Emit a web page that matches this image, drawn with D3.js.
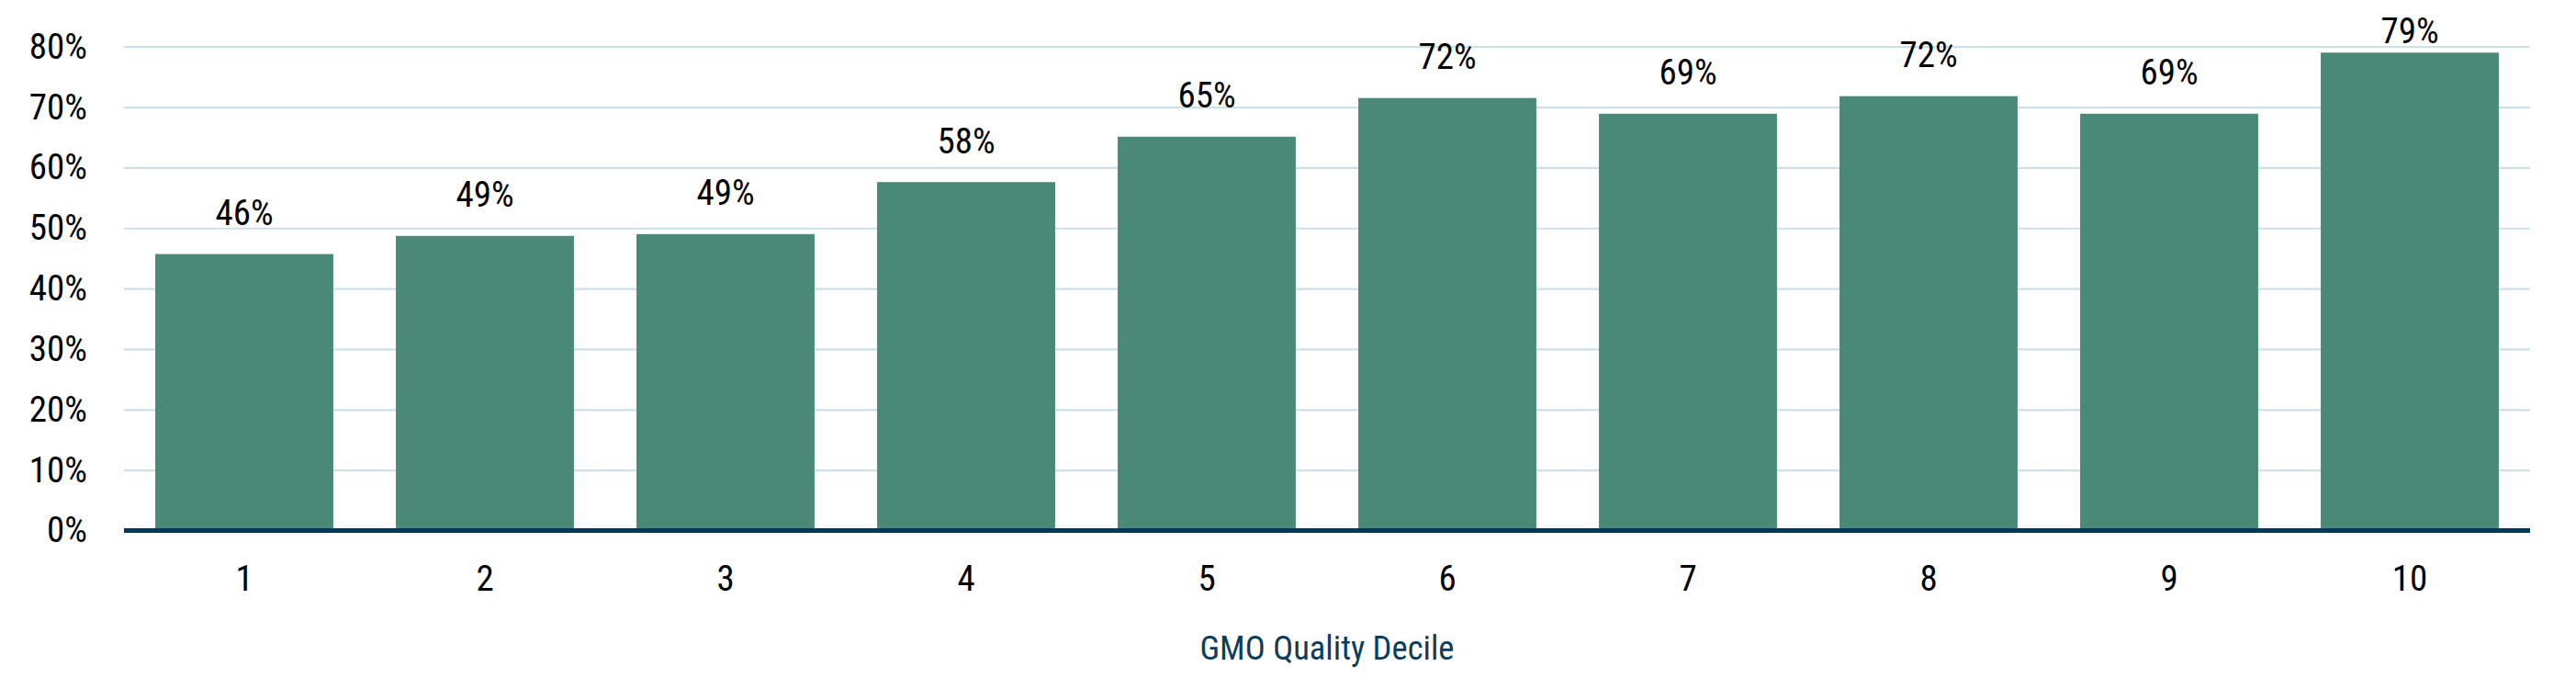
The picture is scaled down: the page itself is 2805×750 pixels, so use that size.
<!DOCTYPE html>
<html>
<head>
<meta charset="utf-8">
<script src="https://cdn.jsdelivr.net/npm/d3@7"></script>
<style>
  html, body { margin: 0; padding: 0; background: #fff; }
  text { font-family: "Roboto Condensed", Roboto, "Liberation Sans", sans-serif; }
</style>
</head>
<body>
<div id="chart"></div>
<script>
// Данные графика
const deciles = ['1', '2', '3', '4', '5', '6', '7', '8', '9', '10'];
const hitRates = [45.7, 48.7, 49.0, 57.6, 65.1, 71.5, 68.9, 71.8, 68.9, 79.0];
const valueLabels = ['46%', '49%', '49%', '58%', '65%', '72%', '69%', '72%', '69%', '79%'];
const yTicks = [0, 10, 20, 30, 40, 50, 60, 70, 80];
const xTitle = 'GMO Quality Decile';

const width = 2805;
const height = 750;
const plot = { left: 135, right: 2755, top: 50.7, bottom: 577.5 };
const titleWidth = 277;

const svg = d3.select('#chart')
  .append('svg')
  .attr('width', width)
  .attr('height', height);

const x = d3.scaleBand()
  .domain(deciles)
  .range([plot.left, plot.right])
  .paddingInner(0.26)
  .paddingOuter(0.13);

const y = d3.scaleLinear()
  .domain([0, 80])
  .range([plot.bottom, plot.top]);

// Сетка и подписи оси Y
const yAxis = svg.append('g')
  .attr('transform', `translate(${plot.left},0)`)
  .call(d3.axisLeft(y)
    .tickValues(yTicks)
    .tickSize(-(plot.right - plot.left))
    .tickPadding(40)
    .tickFormat((d) => `${d}%`));

yAxis.select('.domain').remove();
yAxis.selectAll('.tick line')
  .attr('stroke', '#cde0e8')
  .attr('stroke-width', 2.2);
yAxis.selectAll('.tick text')
  .attr('fill', '#000')
  .attr('font-size', 39)
  .attr('font-family', null);

// Столбцы
svg.append('g')
  .selectAll('rect')
  .data(hitRates)
  .enter()
  .append('rect')
  .attr('x', (d, i) => x(deciles[i]))
  .attr('y', (d) => y(d))
  .attr('width', x.bandwidth())
  .attr('height', (d) => y(0) - y(d))
  .attr('fill', '#4a8977');

// Подписи значений
svg.append('g')
  .selectAll('text')
  .data(hitRates)
  .enter()
  .append('text')
  .attr('x', (d, i) => x(deciles[i]) + x.bandwidth() / 2)
  .attr('y', (d) => Math.max(y(d) - 31.5, 47))
  .attr('text-anchor', 'middle')
  .attr('font-size', 39)
  .attr('fill', '#000')
  .text((d, i) => valueLabels[i]);

// Ось X
const xAxis = svg.append('g')
  .attr('transform', `translate(0,${plot.bottom})`)
  .call(d3.axisBottom(x).tickSize(0).tickPadding(37.5));

xAxis.select('.domain').remove();
xAxis.selectAll('.tick text')
  .attr('fill', '#000')
  .attr('font-size', 39)
  .attr('font-family', null);

svg.append('line')
  .attr('x1', plot.left)
  .attr('x2', plot.right)
  .attr('y1', y(0))
  .attr('y2', y(0))
  .attr('stroke', '#003a57')
  .attr('stroke-width', 5);

// Заголовок оси X
svg.append('text')
  .attr('x', (plot.left + plot.right) / 2)
  .attr('y', 718.3)
  .attr('text-anchor', 'middle')
  .attr('font-size', 37.5)
  .attr('fill', '#0b3d5c')
  .attr('textLength', titleWidth)
  .attr('lengthAdjust', 'spacingAndGlyphs')
  .text(xTitle);
</script>
</body>
</html>
